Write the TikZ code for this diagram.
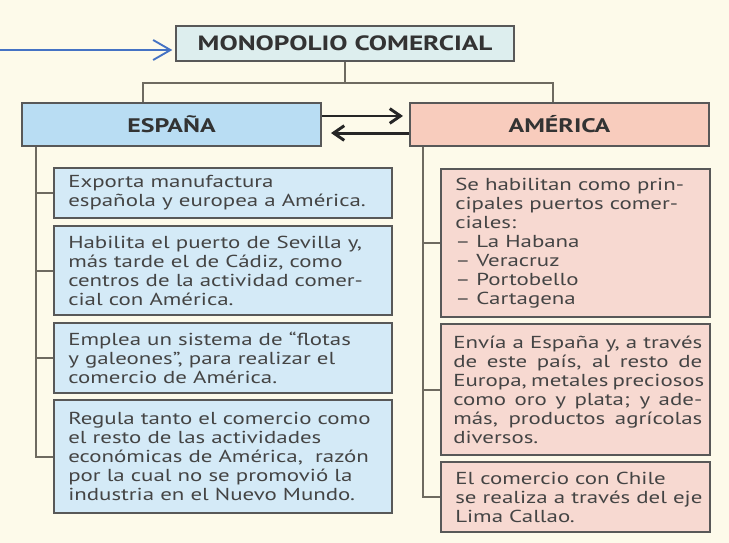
\documentclass[tikz,border=0pt]{standalone}
\usepackage{fontspec}
\setmainfont[FakeStretch=1.32]{PT Sans}
\usetikzlibrary{arrows.meta}
\definecolor{bgc}{HTML}{FDFAEA}
\definecolor{monof}{HTML}{DDEEEE}
\definecolor{espf}{HTML}{B9DDF3}
\definecolor{amef}{HTML}{F8CCBD}
\definecolor{lf}{HTML}{D4EAF7}
\definecolor{rf}{HTML}{F7D9D1}
\definecolor{bord}{HTML}{585858}
\definecolor{conc}{HTML}{6E6A60}
\definecolor{txtc}{HTML}{444444}
\definecolor{headc}{HTML}{333333}
\definecolor{bluea}{HTML}{4472C4}
\definecolor{darka}{HTML}{262626}
\newcommand{\jstline}[1]{\makebox[186.75pt][s]{#1}}
\tikzset{
  box/.style={draw=bord, line width=1.5pt, inner sep=0pt, anchor=north west},
  head/.style={box, font=\bfseries\fontsize{14.7}{16}\selectfont, text=headc, anchor=center},
  txt/.style={anchor=west, inner sep=0pt, align=left, text=txtc, font=\fontsize{13}{14.25}\selectfont},
  conn/.style={draw=conc, line width=1.5pt},
  dbl/.style={draw=darka, line width=2.2pt, -{Straight Barb[length=8pt,width=11pt,line width=2.2pt]}},
}
\begin{document}
\begin{tikzpicture}[x=0.75pt,y=-0.75pt]
\fill[bgc] (0,0) rectangle (729,543);
\useasboundingbox (0,0) rectangle (729,543);
% headers
\node[head, fill=monof, minimum width=253.5pt, minimum height=26.25pt, font=\bfseries\fontsize{15.5}{17}\selectfont] (mono) at (345,43.5) {MONOPOLIO COMERCIAL};
\node[head, fill=espf, minimum width=224.25pt, minimum height=32.25pt] (esp) at (171.5,124.5) {ESPAÑA};
\node[head, fill=amef, minimum width=224.25pt, minimum height=32.25pt] (ame) at (559.5,124.5) {AMÉRICA};
% blue arrow
\coordinate (bst) at (0,50);
\draw[draw=bluea, line width=1.4pt, -{Straight Barb[length=13pt,width=15pt,line width=1.4pt]}, shorten >=2pt] (bst) -- (bst -| mono.west);
% top connectors
\coordinate (jl) at (143,83);
\coordinate (jr) at (553,83);
\coordinate (jm) at (mono.south |- jl);
\draw[conn] (mono.south) -- (jm);
\draw[conn] (jl |- esp.north) -- (jl) -- (jr) -- (jr |- ame.north);
% double arrows
\draw[dbl, shorten >=4.5pt] ([yshift=6.4pt]esp.east) -- ([yshift=6.4pt]ame.west);
\draw[dbl, shorten >=6.75pt] ([yshift=-6.4pt]ame.west) -- ([yshift=-6.4pt]esp.east);
% left boxes
\node[box, fill=lf, minimum width=253.5pt, minimum height=37.5pt] (l1) at (53,167) {};
\node[box, fill=lf, minimum width=253.5pt, minimum height=66.75pt] (l2) at (53,225) {};
\node[box, fill=lf, minimum width=253.5pt, minimum height=52.5pt] (l3) at (53,322) {};
\node[box, fill=lf, minimum width=253.5pt, minimum height=84.75pt] (l4) at (53,399) {};
\node[txt] (l1t) at ([xshift=11.25pt]l1.west) {Exporta manufactura\\española y europea a América.};
\node[txt] (l2t) at ([xshift=11.25pt]l2.west) {Habilita el puerto de Sevilla y,\\más tarde el de Cádiz, como\\centros de la actividad comer-\\cial con América.};
\node[txt] (l3t) at ([xshift=11.25pt]l3.west) {Emplea un sistema de “flotas\\y galeones”, para realizar el\\comercio de América.};
\node[txt] (l4t) at ([xshift=11.25pt]l4.west) {Regula tanto el comercio como\\el resto de las actividades\\económicas de América,\ \ razón\\por la cual no se promovió la\\industria en el Nuevo Mundo.};
% right boxes
\node[box, fill=rf, minimum width=201.75pt, minimum height=111pt] (r1) at (440,168) {};
\node[box, fill=rf, minimum width=201.75pt, minimum height=98.25pt] (r2) at (440,323) {};
\node[box, fill=rf, minimum width=201.75pt, minimum height=52.5pt] (r3) at (440,461) {};
\node[txt] (r1t) at ([xshift=11.25pt]r1.west) {Se habilitan como prin-\\cipales puertos comer-\\ciales:\\– La Habana\\– Veracruz\\– Portobello\\– Cartagena};
\node[txt] (r2t) at ([xshift=9.75pt]r2.west) {\jstline{Envía a España y, a través}\\\jstline{de este país, al resto de}\\\jstline{Europa, metales preciosos}\\\jstline{como oro y plata; y ade-}\\\jstline{más, productos agrícolas}\\diversos.};
\node[txt] (r3t) at ([xshift=11.25pt]r3.west) {El comercio con Chile\\se realiza a través del eje\\Lima Callao.};
% trunks
\coordinate (ls) at ([xshift=11.25pt]esp.south west);
\coordinate (rs) at ([xshift=10.5pt]ame.south west);
\draw[conn] (ls) |- (l4.west);
\draw[conn] (l1.west) -- (l1.west -| ls);
\draw[conn] (l2.west) -- (l2.west -| ls);
\draw[conn] (l3.west) -- (l3.west -| ls);
\draw[conn] (rs) |- (r3.west);
\draw[conn] (r1.west) -- (r1.west -| rs);
\draw[conn] (r2.west) -- (r2.west -| rs);
\end{tikzpicture}
\end{document}
